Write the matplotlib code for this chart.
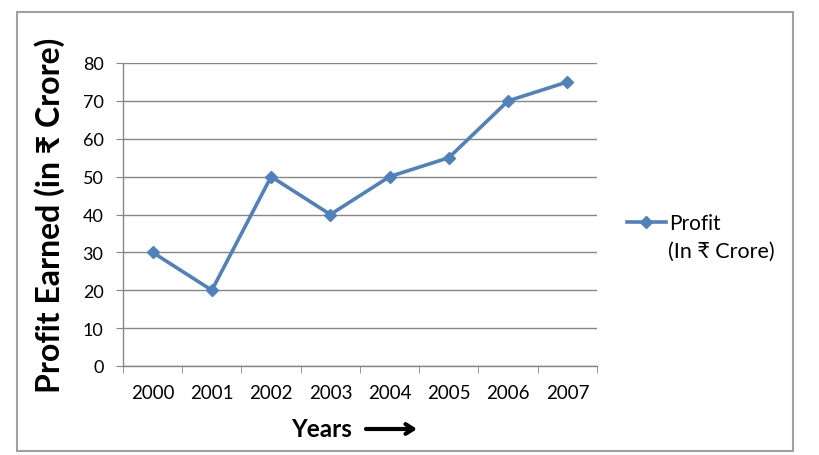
import matplotlib
matplotlib.use("Agg")
import matplotlib.pyplot as plt
from matplotlib.patches import Rectangle

years = ["2000", "2001", "2002", "2003", "2004", "2005", "2006", "2007"]
profit = [30, 20, 50, 40, 50, 55, 70, 75]
yticks = [0, 10, 20, 30, 40, 50, 60, 70, 80]

plt.rcParams['font.family'] = ['Lato', 'Noto Sans', 'DejaVu Sans']

W, H = 820, 456
fig = plt.figure(figsize=(8.2, 4.56), dpi=100)
ax = fig.add_axes([123/W, 1 - 367/H, (597-123)/W, (367-64)/H])

x = list(range(len(years)))
ax.plot(x, profit, color='#4F81BD', lw=2.6, marker='D', ms=6.5,
        markerfacecolor='#4F81BD', markeredgecolor='#4F81BD', label='Profit')

ax.set_xlim(-0.5, len(years) - 0.5)
ax.set_ylim(0, 80)
ax.set_yticks(yticks)
ax.set_yticklabels([str(v) for v in yticks])
ax.set_xticks(x)
ax.set_xticklabels(years)
ax.set_xticks([i - 0.5 for i in range(len(years) + 1)], minor=True)

ax.grid(axis='y', color='#868686', lw=1)
ax.set_axisbelow(True)
for s in ['top', 'right']:
    ax.spines[s].set_visible(False)
for s in ['left', 'bottom']:
    ax.spines[s].set_color('#868686')
    ax.spines[s].set_linewidth(1)

ax.tick_params(axis='y', length=5, color='#868686', labelsize=13, pad=9)
ax.tick_params(axis='x', which='major', length=0, labelsize=13.5, pad=13)
ax.tick_params(axis='x', which='minor', length=5, color='#868686')

ax.set_ylabel('Profit Earned (in ₹ Crore)', fontsize=23, fontweight='bold', labelpad=13)

fig.text(322/W, 1 - 430/H, 'Years', fontsize=17.5, fontweight='bold', ha='center', va='center')
ax.annotate('', xy=(417/W, 1 - 430/H), xytext=(366/W, 1 - 430/H),
            xycoords='figure fraction', textcoords='figure fraction',
            arrowprops=dict(arrowstyle='->, head_length=0.55, head_width=0.35',
                            lw=3, color='black', shrinkA=0, shrinkB=0))

fig.legend(loc='center left', bbox_to_anchor=(627/W, 1 - 224/H), frameon=False,
           fontsize=15, handlelength=1.85, handletextpad=0.15, borderpad=0,
           borderaxespad=0)
fig.text(668/W, 1 - 252/H, '(In ₹ Crore)', fontsize=15.5, ha='left', va='center')

fig.patches.append(Rectangle((17/W, 1 - 452/H), (793-17)/W, (452-13)/H,
                             transform=fig.transFigure, fill=False,
                             edgecolor='#A0A0A0', lw=1.5))

fig.savefig('out.png', dpi=100)
